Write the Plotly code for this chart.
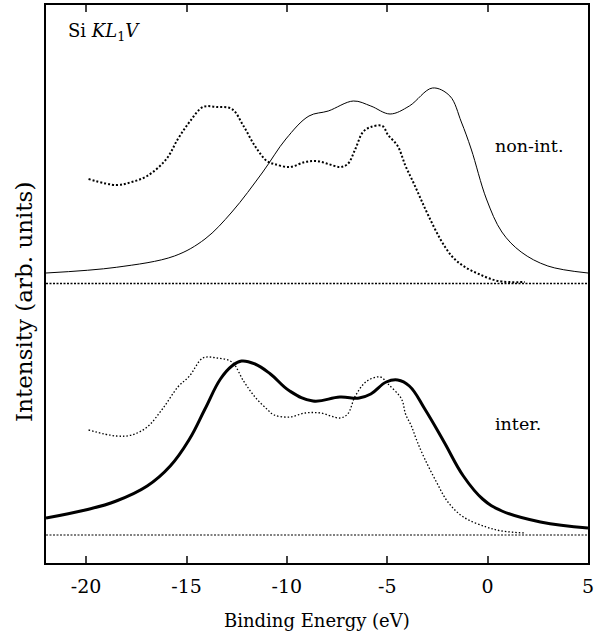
import plotly.graph_objects as go

# Binding energy (eV) and intensities (arbitrary units, offset panels)
x_nonint = [-22, -18.5, -15.6, -14.08, -12.74, -11.2, -10.05, -8.9, -7.94, -6.69, -5.82,
            -4.86, -3.9, -2.75, -1.88, -1.31, -0.82, -0.06, 0.71, 1.67, 3.0, 5]
y_nonint = [290, 295.7, 307, 324, 351, 391, 424, 447, 452, 462, 457,
            449, 457, 475, 467, 441, 414, 364, 331, 311, 297, 290]

x_exp_top = [-19.88, -18.5, -17.73, -16.96, -16.0, -15.43, -14.85, -14.18, -13.5, -12.74,
             -12.16, -11.59, -11.0, -10.63, -9.86, -9.09, -8.51, -7.94, -7.36, -6.97,
             -6.59, -6.21, -5.82, -5.24, -4.96, -4.48, -4.09, -3.71, -3.33, -2.94,
             -2.36, -1.79, -1.21, -0.44, 0.52, 1.86]
y_exp_top = [384, 378, 381, 387, 404, 424, 441, 456, 456, 454,
             437, 417, 402, 399, 396, 401, 402, 399, 396, 399,
             414, 431, 436, 437, 428, 417, 397, 381, 364, 347,
             324, 307, 297, 289, 282, 281]

x_inter = [-22, -20.04, -18.5, -16.96, -15.81, -14.85, -14.08, -13.31, -12.74, -12.26,
           -11.59, -10.82, -9.86, -8.7, -7.36, -6.4, -5.82, -5.05, -4.48, -3.9,
           -3.13, -2.17, -1.21, -0.25, 0.71, 2.63, 5]
y_inter = [45, 53, 62, 77, 97, 124, 154, 184, 197, 202,
           199, 189, 172, 162, 166, 165, 169, 181, 183, 177,
           154, 121, 87, 64, 52, 41, 35]

x_exp_bot = [-19.88, -18.5, -17.73, -16.96, -16.2, -15.43, -14.85, -14.18, -13.5, -12.74,
             -12.16, -11.59, -11.0, -10.63, -9.86, -9.09, -8.32, -7.36, -6.97, -6.59,
             -6.01, -5.34, -4.96, -4.29, -4.09, -3.8, -3.52, -3.13, -2.55, -1.98,
             -1.21, -0.06, 0.71, 1.86]
y_exp_bot = [133, 127, 128, 136, 154, 176, 187, 205, 205, 201,
             182, 166, 154, 148, 146, 150, 150, 145, 149, 167,
             182, 186, 179, 164, 149, 137, 122, 104, 81, 61,
             46, 36, 32, 30]

baseline_top = 279.5
baseline_bot = 28
x_range = [-22, 5]
y_range = [0, 558]
x_ticks = [-20, -15, -10, -5, 0, 5]
x_ticklabels = ["-20", "-15", "-10", "-5", "0", "5"]

serif = "DejaVu Serif"

fig = go.Figure()

fig.add_trace(go.Scatter(x=x_range, y=[baseline_top, baseline_top], mode="lines",
                         line=dict(color="black", width=1.5, dash="2px,1.5px"), showlegend=False))
fig.add_trace(go.Scatter(x=x_range, y=[baseline_bot, baseline_bot], mode="lines",
                         line=dict(color="black", width=1, dash="2px,1.5px"), showlegend=False))

fig.add_trace(go.Scatter(x=x_nonint, y=y_nonint, mode="lines", line_shape="spline",
                         line=dict(color="black", width=1), showlegend=False))
fig.add_trace(go.Scatter(x=x_exp_top, y=y_exp_top, mode="lines", line_shape="spline",
                         line=dict(color="black", width=2, dash="2px,2px"), showlegend=False))

fig.add_trace(go.Scatter(x=x_inter, y=y_inter, mode="lines", line_shape="spline",
                         line=dict(color="black", width=3, smoothing=1.2), showlegend=False))
fig.add_trace(go.Scatter(x=x_exp_bot, y=y_exp_bot, mode="lines", line_shape="spline",
                         line=dict(color="black", width=1.3, dash="1.5px,2px"), showlegend=False))

fig.add_annotation(x=-21.0, y=531, xref="x", yref="y", xanchor="left", yanchor="middle",
                   text="Si <i>KL</i><sub>1</sub><i>V</i>", showarrow=False,
                   font=dict(family=serif, size=18, color="black"))
fig.add_annotation(x=0.25, y=417, xref="x", yref="y", xanchor="left", yanchor="middle",
                   text="non-int.", showarrow=False,
                   font=dict(family=serif, size=17.5, color="black"))
fig.add_annotation(x=0.25, y=139, xref="x", yref="y", xanchor="left", yanchor="middle",
                   text="inter.", showarrow=False,
                   font=dict(family=serif, size=17.5, color="black"))

# axis titles as annotations for exact placement
fig.add_annotation(x=-0.0405, y=0.468, xref="paper", yref="paper", xanchor="center", yanchor="middle",
                   text="Intensity (arb. units)", textangle=-90, showarrow=False,
                   font=dict(family=serif, size=23, color="black"))
fig.add_annotation(x=0.5, y=-0.1022, xref="paper", yref="paper", xanchor="center", yanchor="middle",
                   text="Binding Energy (eV)", showarrow=False,
                   font=dict(family=serif, size=18, color="black"))

fig.update_layout(
    width=606, height=635,
    margin=dict(l=46, r=18, t=5, b=72, autoexpand=False),
    paper_bgcolor="white", plot_bgcolor="white",
    font=dict(family=serif, size=19, color="black"),
    xaxis=dict(range=x_range, tickvals=x_ticks, ticktext=x_ticklabels,
               ticks="inside", ticklen=7, tickwidth=1.5, ticklabelstandoff=5,
               showline=True, linecolor="black", linewidth=2, mirror="ticks",
               showgrid=False, zeroline=False,
               tickfont=dict(family=serif, size=19)),
    yaxis=dict(range=y_range, showticklabels=False, ticks="",
               showline=True, linecolor="black", linewidth=2, mirror=True,
               showgrid=False, zeroline=False),
)

fig.write_html("out.html", config={"displayModeBar": False},
               post_script="document.body.style.margin='0';")
